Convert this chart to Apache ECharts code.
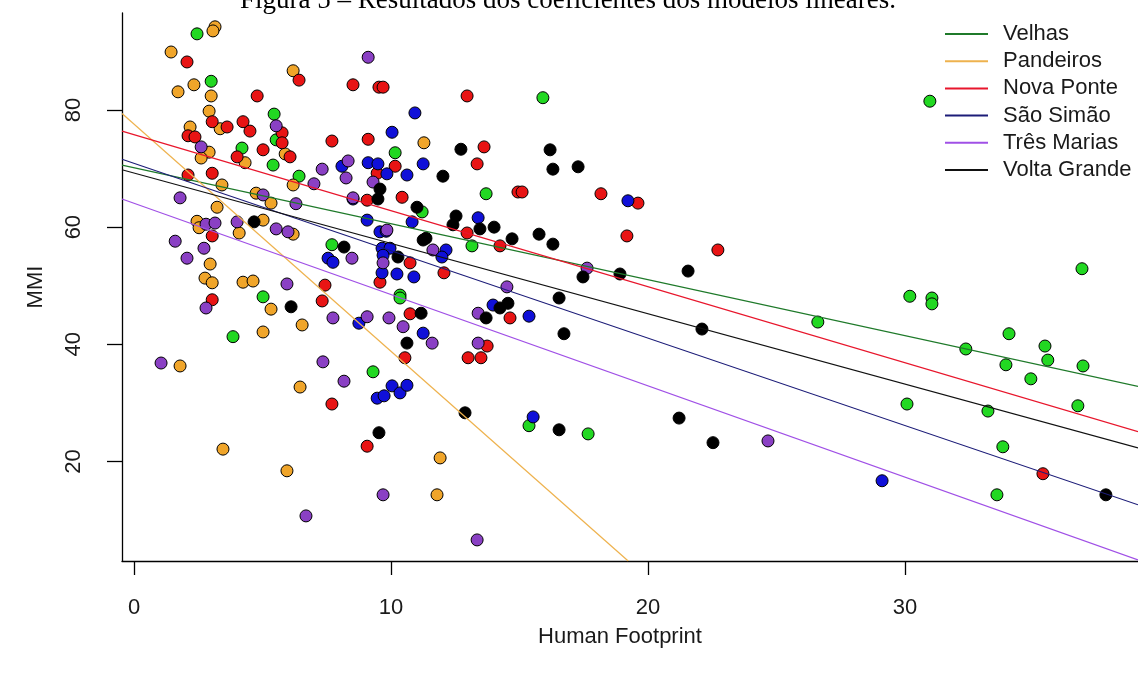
<!DOCTYPE html>
<html>
<head>
<meta charset="utf-8">
<script src="https://cdn.jsdelivr.net/npm/echarts@6/dist/echarts.min.js"></script>
<style>
html,body{margin:0;padding:0;background:#fff;}
#chart{width:1138px;height:675px;}
</style>
</head>
<body>
<div id="chart"></div>
<script>
// ---- data ----
const titleText = 'Figura 5 \u2013 Resultados dos coeficientes dos modelos lineares.';
const groupNames = ['Velhas', 'Pandeiros', 'Nova Ponte', 'S\u00e3o Sim\u00e3o', 'Tr\u00eas Marias', 'Volta Grande'];
const xTicks = [0, 10, 20, 30];
const yTicks = [20, 40, 60, 80];

const velhasPts = [
  [2.45,93.0],[3.0,84.9],[5.45,79.3],[5.53,74.9],[4.20,73.5],[5.41,70.6],[10.16,72.7],[6.42,68.7],
  [3.85,41.3],[5.02,48.1],[7.70,57.0],[9.30,35.3],[10.35,48.4],[10.35,47.9],[11.21,62.6],[13.70,65.7],
  [13.15,56.8],[15.91,82.1],[15.37,26.1],[17.67,24.7],[30.97,81.5],[30.19,48.2],[31.05,47.9],[31.05,46.9],
  [36.89,52.9],[26.61,43.8],[32.37,39.2],[34.05,41.8],[35.45,39.7],[33.93,36.5],[35.56,37.3],[36.93,36.3],
  [34.90,34.1],[30.08,29.8],[33.23,28.6],[36.73,29.5],[33.81,22.5],[33.58,14.3]
];
const pandeirosPts = [
  [3.15,94.2],[3.07,93.5],[1.44,89.9],[6.19,86.7],[1.71,83.1],[2.33,84.3],[3.0,82.4],[2.92,79.8],
  [3.35,76.8],[2.18,77.1],[2.92,72.8],[2.61,71.8],[4.32,71.0],[5.88,72.5],[6.19,67.2],[3.42,67.2],
  [11.28,74.4],[4.75,65.8],[5.33,64.1],[3.23,63.4],[2.45,61.0],[2.53,59.9],[5.02,61.2],[4.09,59.0],
  [6.19,58.8],[2.96,53.7],[2.76,51.3],[3.04,50.5],[4.24,50.6],[4.63,50.8],[5.33,46.0],[6.54,43.3],
  [5.02,42.1],[1.79,36.3],[6.46,32.7],[3.46,22.1],[5.95,18.4],[11.91,20.6],[11.79,14.3]
];
const novaPontePts = [
  [2.06,88.2],[6.42,85.1],[8.52,84.3],[9.53,83.9],[9.69,83.9],[4.79,82.4],[3.04,78.0],[3.62,77.1],
  [2.10,75.6],[2.37,75.4],[4.24,78.0],[4.51,76.4],[5.76,76.1],[5.76,74.4],[7.70,74.7],[9.11,75.0],
  [4.01,72.0],[5.02,73.2],[6.07,72.0],[10.16,70.4],[3.04,69.2],[2.10,68.9],[9.46,69.2],[9.07,64.6],
  [10.43,65.1],[3.04,58.5],[9.57,50.6],[7.43,50.1],[3.04,47.6],[7.32,47.4],[7.70,29.8],[9.07,22.6],
  [10.74,53.9],[12.06,52.2],[10.74,45.2],[10.54,37.7],[12.96,82.4],[13.62,73.7],[13.35,70.8],[14.94,66.0],
  [15.10,66.0],[12.96,59.0],[14.24,56.8],[14.63,44.5],[13.0,37.7],[13.5,37.7],[13.74,39.7],[18.17,65.7],
  [19.61,64.1],[19.18,58.5],[22.72,56.1],[35.37,17.9]
];
const saoSimaoPts = [
  [10.04,76.2],[10.93,79.5],[11.25,70.8],[8.09,70.4],[9.11,71.0],[9.49,70.8],[9.84,69.1],[10.62,68.9],
  [8.52,64.8],[9.07,61.2],[10.82,60.9],[13.39,61.6],[9.57,59.2],[9.81,59.3],[9.65,56.4],[9.96,56.4],
  [9.69,55.2],[12.14,56.1],[11.98,54.9],[7.55,54.7],[7.74,54.0],[9.65,52.2],[10.23,52.0],[10.89,51.5],
  [8.75,43.6],[13.97,46.7],[15.37,44.8],[11.25,41.9],[9.46,30.8],[9.73,31.2],[10.04,32.9],[10.35,31.7],
  [10.62,33.0],[15.53,27.6],[19.22,64.5],[29.11,16.7]
];
const tresMariasPts = [
  [9.11,89.0],[5.53,77.3],[2.61,73.7],[7.32,69.9],[8.33,71.3],[8.25,68.4],[9.30,67.7],[7.0,67.4],
  [8.52,65.0],[1.79,65.0],[5.02,65.5],[6.30,64.0],[2.80,60.5],[3.15,60.7],[4.01,60.9],[5.53,59.7],
  [5.99,59.2],[1.60,57.6],[2.72,56.4],[2.06,54.7],[8.48,54.7],[9.84,59.5],[9.69,53.9],[11.63,56.1],
  [5.95,50.3],[2.80,46.2],[7.74,44.5],[9.07,44.7],[9.92,44.5],[10.47,43.0],[13.39,45.3],[14.51,49.8],
  [11.60,40.2],[13.39,40.2],[1.05,36.8],[7.35,37.0],[8.17,33.7],[9.69,14.3],[6.69,10.7],[13.35,6.6],
  [17.63,53.0],[24.67,23.5]
];
const voltaGrandePts = [
  [9.57,66.5],[9.49,64.8],[4.67,60.9],[8.17,56.6],[6.11,46.4],[10.27,54.9],[11.01,63.4],[12.02,68.7],
  [12.72,73.3],[12.53,61.9],[12.41,60.4],[13.46,59.7],[14.01,60.0],[11.36,58.1],[11.25,57.8],[14.71,58.0],
  [15.76,58.8],[16.30,57.1],[16.19,73.2],[16.30,69.9],[17.28,70.3],[11.17,45.3],[13.70,44.5],[14.24,46.2],
  [14.55,47.0],[16.54,47.9],[16.73,41.8],[10.62,40.2],[9.53,24.9],[12.88,28.3],[16.54,25.4],[17.47,51.5],
  [18.91,52.0],[21.56,52.5],[22.10,42.6],[21.21,27.4],[22.53,23.2],[37.82,14.3]
];

// fitted lines: two end points each
const velhasLine = [[-0.47,70.6],[39.07,32.8]];
const pandeirosLine = [[-0.47,79.4],[19.23,3.0]];
const novaPonteLine = [[-0.47,76.4],[39.07,25.1]];
const saoSimaoLine = [[-0.47,71.6],[39.07,12.6]];
const tresMariasLine = [[-0.47,64.8],[39.07,3.2]];
const voltaGrandeLine = [[-0.47,69.8],[39.07,22.3]];

// ---- styling ----
const pointColors = ['#22d822', '#f0a52a', '#e81414', '#1010d8', '#8a40c4', '#000000'];
const lineColors = ['#1f7a2a', '#eeb24e', '#e8162c', '#1c1c78', '#a050e6', '#111111'];
const pointSets = [velhasPts, pandeirosPts, novaPontePts, saoSimaoPts, tresMariasPts, voltaGrandePts];
const lineSets = [velhasLine, pandeirosLine, novaPonteLine, saoSimaoLine, tresMariasLine, voltaGrandeLine];

const series = [];
pointSets.forEach((pts, i) => {
  series.push({
    name: groupNames[i] + ' (pontos)',
    type: 'scatter',
    data: pts,
    symbol: 'circle',
    symbolSize: 12,
    z: 2,
    itemStyle: { color: pointColors[i], borderColor: '#000', borderWidth: 1, opacity: 1 },
    emphasis: { disabled: true }
  });
});
lineSets.forEach((ln, i) => {
  series.push({
    name: groupNames[i],
    type: 'line',
    data: ln,
    showSymbol: false,
    symbol: 'none',
    color: lineColors[i],
    lineStyle: { color: lineColors[i], width: 1.2 },
    itemStyle: { color: lineColors[i] },
    z: 3,
    silent: true
  });
});

const chart = echarts.init(document.getElementById('chart'), null, { renderer: 'canvas' });
chart.setOption({
  animation: false,
  backgroundColor: '#ffffff',
  grid: { left: 122, top: 13, width: 1016, height: 548, containLabel: false },
  xAxis: {
    type: 'value',
    min: -0.47, max: 39.07,
    splitLine: { show: false },
    axisLine: { show: true, onZero: false, lineStyle: { color: '#000', width: 1.3 } },
    axisTick: { show: true, length: 14, customValues: xTicks, lineStyle: { color: '#000', width: 1.3 } },
    axisLabel: { customValues: xTicks, fontSize: 22, fontFamily: 'Liberation Sans', color: '#1a1a1a', margin: 36 },
    name: 'Human Footprint',
    nameLocation: 'middle',
    nameGap: 65,
    nameTextStyle: { fontSize: 22, fontFamily: 'Liberation Sans', color: '#1a1a1a', padding: [0, 20, 0, 0] }
  },
  yAxis: {
    type: 'value',
    min: 3.0, max: 96.56,
    splitLine: { show: false },
    axisLine: { show: true, onZero: false, lineStyle: { color: '#000', width: 1.3 } },
    axisTick: { show: true, length: 15, customValues: yTicks, lineStyle: { color: '#000', width: 1.3 } },
    axisLabel: { customValues: yTicks, rotate: 90, fontSize: 22, fontFamily: 'Liberation Sans', color: '#1a1a1a', margin: 37 },
    name: 'MMI',
    nameLocation: 'middle',
    nameRotate: 90,
    nameGap: 75,
    nameTextStyle: { fontSize: 22, fontFamily: 'Liberation Sans', color: '#1a1a1a' }
  },
  legend: {
    data: groupNames,
    orient: 'vertical',
    left: 940,
    top: 18,
    icon: 'rect',
    itemWidth: 43,
    itemHeight: 2,
    itemGap: 5.2,
    selectedMode: false,
    textStyle: { fontSize: 22, lineHeight: 22, fontFamily: 'Liberation Sans', color: '#1a1a1a', padding: [0, 0, 0, 10] }
  },
  graphic: [{
    type: 'text',
    x: 568,
    y: 14,
    silent: true,
    style: {
      text: titleText,
      fontSize: 27,
      fontFamily: 'Liberation Serif',
      fill: '#000',
      align: 'center',
      verticalAlign: 'bottom'
    }
  }],
  series: series
});
</script>
</body>
</html>
